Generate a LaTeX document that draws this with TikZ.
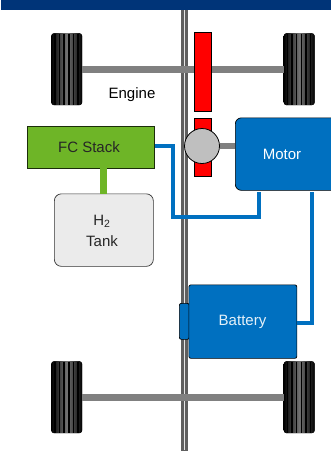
\documentclass[tikz,border=0pt]{standalone}
\usepackage{fontspec}
\setmainfont{Liberation Sans}
\definecolor{navy}{HTML}{003478}
\definecolor{pblue}{HTML}{0070C0}
\definecolor{pgreen}{HTML}{6EB527}
\definecolor{axlegrey}{HTML}{808080}
\definecolor{shaftgrey}{HTML}{5F5F5F}
\tikzset{
  boxed/.style={draw=black,line width=0.7pt,inner sep=0pt,anchor=north west},
  bluebox/.style={boxed,fill=pblue,text=white,rounded corners=2pt},
  pipe/.style={draw=pblue,line width=4.5pt},
  axle/.style={draw=axlegrey,line width=7pt},
  redbar/.style={boxed,fill=red,minimum width=17.5pt},
  lab/.style={font=\fontsize{15pt}{21pt}\selectfont,align=center,inner sep=0pt}
}
\newcommand{\tire}[3]{%
  \node[inner sep=0pt,minimum width=31pt,minimum height=72pt,anchor=north west,fill=black,rounded corners=3pt,
        left color=black,right color=black,middle color=black!55!white] (#1) at (#2,#3) {};
  \foreach \dx in {4,8.5,13,18,22.5,27}
    \draw[black,line width=1.6pt] (#2+\dx,#3+0.5) -- (#2+\dx,#3+71.5);
}
\begin{document}
\begin{tikzpicture}[x=1pt,y=-1pt]
\useasboundingbox (0,0) rectangle (331,451);
\fill[navy] (1,0) rectangle (331,10);
\coordinate (shafttop) at (184.5,10);
\coordinate (shaftbot) at (184.5,450.5);
\draw[shaftgrey,line width=7pt] (shafttop) -- (shaftbot);
\draw[white!90!black,line width=1.8pt] (184.5,10) -- (184.5,449.5);
% wheels
\tire{wfl}{51}{33}
\tire{wfr}{283.5}{33}
\tire{wrl}{51}{361}
\tire{wrr}{283.5}{361}
\draw[axle] (wfl.east) -- (wfr.west);
\draw[axle] (wrl.east) -- (wrr.west);
% engine
\node[redbar,minimum height=79pt] (eng1) at (193.5,32) {};
\node[redbar,minimum height=57.5pt] (eng2) at (193.5,118) {};
\node[lab] (englab) at (132,94.5) {Engine};
% motor
\node[bluebox,rounded corners=6pt,minimum width=103pt,minimum height=72.5pt] (motor) at (235,117.5) {};
\node[lab,text=white] (motorlab) at (282,154) {Motor};
\node[draw=black,line width=0.8pt,fill=black!25,circle,inner sep=0pt,minimum size=35pt] (rotor) at (202,146) {};
\draw[axlegrey,line width=6pt] (rotor.east) -- (rotor.east -| motor.west);
% FC and tank
\node[boxed,draw=pgreen!25!black,fill=pgreen,minimum width=127pt,minimum height=42pt] (fc) at (27,125.5) {};
\node[lab,text=black!85] (fclab) at (89,147) {FC Stack};
\node[boxed,draw=black!80,fill=black!8,rounded corners=7pt,minimum width=99pt,minimum height=72.5pt] (tank) at (54,193.5) {};
\node[lab,text=black!85] (tanklab) at (102,231) {H\textsubscript{2}\\Tank};
\draw[pgreen,line width=7pt] (fc.south -| 103.5,0) -- (tank.north -| 103.5,0);
% battery
\node[bluebox,minimum width=10pt,minimum height=36pt] (term) at (179,303) {};
\node[bluebox,minimum width=108pt,minimum height=73.5pt] (batt) at (188.5,284.5) {};
\node[lab,text=white!90!pblue] (battlab) at (242.5,322) {Battery};
% wiring
\coordinate (w1) at (173,146);
\coordinate (w2) at (173,217);
\coordinate (w3) at (259,217);
\coordinate (w4) at (259,192);
\coordinate (w5) at (312,192);
\coordinate (w6) at (312,323);
\draw[pipe] (fc.east |- w1) -- (w1) -- (w2) -- (w3) -- (w4);
\draw[pipe] (w5) -- (w6) -- (batt.east |- w6);
\end{tikzpicture}
\end{document}
